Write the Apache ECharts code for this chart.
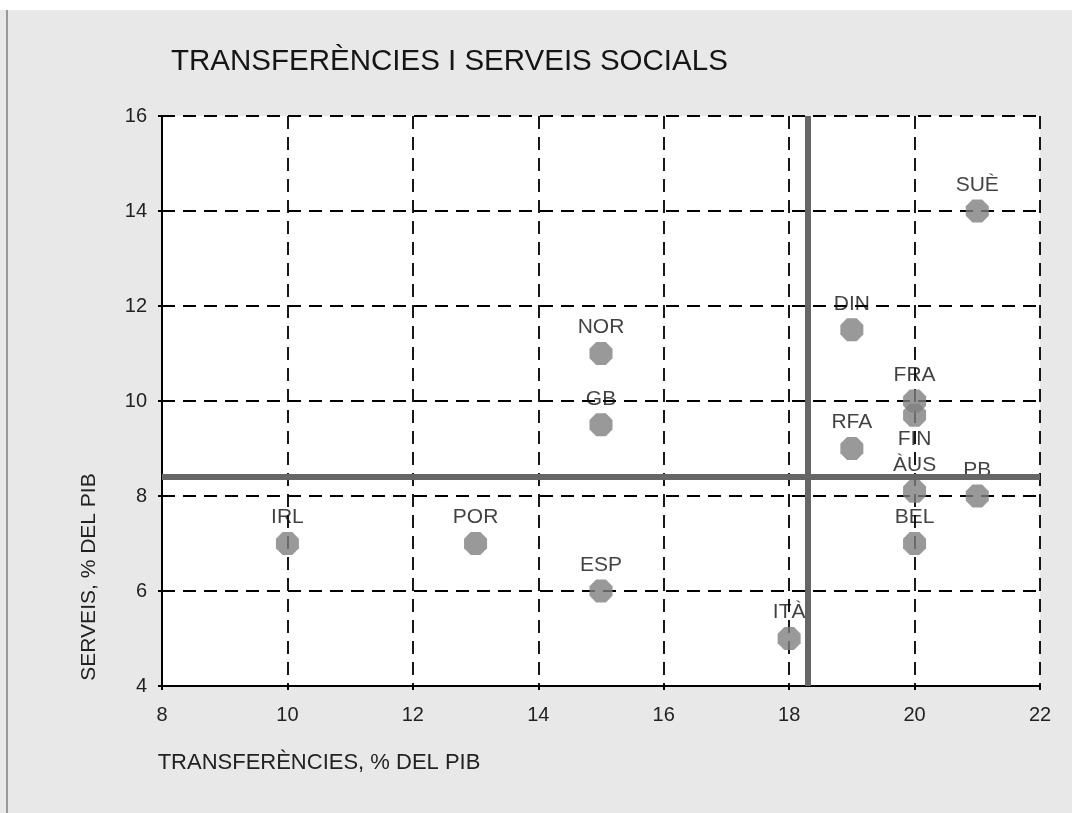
<!DOCTYPE html>
<html>
<head>
<meta charset="utf-8">
<style>
	html,body{margin:0;padding:0;background:#fff}
	#chart{width:1072px;height:813px}
</style>
<script src="https://cdn.jsdelivr.net/npm/echarts@6/dist/echarts.min.js"></script>
</head>
<body>
<div id="chart"></div>
<script>
// countries and their values (% del PIB)
const countries=["IRL","POR","ESP","GB","NOR","ITÀ","DIN","RFA","FRA","FIN","ÀUS","BEL","PB","SUÈ"]
const transfers=[10,13,15,15,15,18,19,19,20,20,20,20,21,21]
const services=[7,7,6,9.5,11,5,11.5,9,10,9.7,8.1,7,8,14]
// mean lines
const meanTransfers=18.3
const meanServices=8.4
const xTicks={min:8,max:22,interval:2}
const yTicks={min:4,max:16,interval:2}

const font='"Liberation Sans", Arial, sans-serif'
const octagon='path://M0.29,0 L0.71,0 L1,0.29 L1,0.71 L0.71,1 L0.29,1 L0,0.71 L0,0.29 Z'

const points=countries.map((name,i)=>{
	let item={name:name,value:[transfers[i],services[i]]}
	// FIN label sits under its dot in the original
	if(name==="FIN") item.label={position:"bottom",distance:2}
	return item
})

const chart=echarts.init(document.getElementById("chart"))
chart.setOption({
	backgroundColor:"#e8e8e8",
	animation:false,
	textStyle:{fontFamily:font},
	title:{
		text:"TRANSFERÈNCIES I SERVEIS SOCIALS",
		left:166,
		top:42,
		textStyle:{fontSize:29.5,fontWeight:"normal",color:"#151515",fontFamily:font}
	},
	graphic:[
		{type:"rect",shape:{x:0,y:0,width:1072,height:10},style:{fill:"#fff"},silent:true},
		{type:"line",shape:{x1:7,y1:10,x2:7,y2:813},style:{stroke:"#999",lineWidth:2},silent:true}
	],
	grid:{
		left:162,
		right:32,
		top:116,
		bottom:127,
		show:true,
		backgroundColor:"#fff",
		borderWidth:0
	},
	xAxis:{
		type:"value",
		min:xTicks.min,
		max:xTicks.max,
		interval:xTicks.interval,
		name:"TRANSFERÈNCIES, % DEL PIB",
		nameLocation:"middle",
		nameGap:66,
		nameTextStyle:{fontSize:22,color:"#222",padding:[0,564,0,0]},
		axisLine:{show:true,onZero:false,lineStyle:{color:"#000",width:2}},
		axisTick:{show:true,length:4,lineStyle:{color:"#000",width:2}},
		axisLabel:{fontSize:20,color:"#222",margin:19},
		splitLine:{show:true,lineStyle:{color:"#000",width:1.8,type:[13,8]}}
	},
	yAxis:{
		type:"value",
		min:yTicks.min,
		max:yTicks.max,
		interval:yTicks.interval,
		name:"SERVEIS, % DEL PIB",
		nameLocation:"middle",
		nameGap:62,
		nameTextStyle:{fontSize:21,color:"#222",padding:[0,352,0,0]},
		axisLine:{show:true,onZero:false,lineStyle:{color:"#000",width:2}},
		axisTick:{show:true,length:4,lineStyle:{color:"#000",width:2}},
		axisLabel:{fontSize:20,color:"#222",margin:15},
		splitLine:{show:true,lineStyle:{color:"#000",width:1.8,type:[13,8]}}
	},
	series:[
		{
			type:"scatter",
			data:points,
			symbol:octagon,
			symbolSize:23,
			itemStyle:{color:"#808080"},
			label:{
				show:true,
				position:"top",
				distance:4,
				formatter:"{b}",
				fontSize:21,
				color:"#111",
				fontFamily:font
			},
			markLine:{
				silent:true,
				symbol:"none",
				label:{show:false},
				lineStyle:{color:"#666",width:6,type:"solid"},
				data:[{xAxis:meanTransfers},{yAxis:meanServices}]
			}
		}
	]
})
</script>
</body>
</html>
